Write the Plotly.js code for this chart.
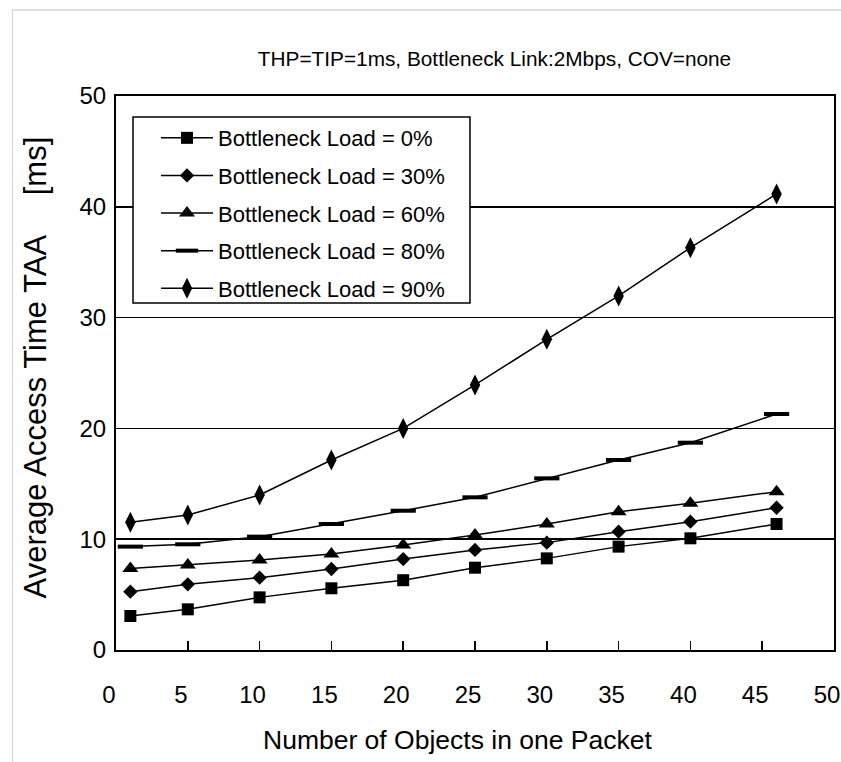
<!DOCTYPE html>
<html>
<head>
<meta charset="utf-8">
<script src="https://cdn.plot.ly/plotly-3.0.1.min.js"></script>
<style>
  html, body { margin: 0; padding: 0; background: #fff; }
  #wrap { position: relative; width: 841px; height: 762px; }
  #chart { width: 841px; height: 762px; }
  #frame { position: absolute; left: 12px; top: 9px; right: 0; bottom: 0;
           border-left: 1px solid #d4d4d4; border-top: 2px solid #e0e0e0; pointer-events: none; }
</style>
</head>
<body>
<div id="wrap">
  <div id="chart"></div>
  <div id="frame"></div>
</div>
<script>
// Number of objects in one packet
const objects = [1, 5, 10, 15, 20, 25, 30, 35, 40, 46];
// Average access time TAA [ms] per bottleneck load
const load0  = [3.07, 3.67, 4.75, 5.57, 6.30, 7.43, 8.27, 9.33, 10.08, 11.37];
const load30 = [5.26, 5.93, 6.53, 7.31, 8.21, 9.03, 9.69, 10.68, 11.58, 12.84];
const load60 = [7.36, 7.67, 8.12, 8.66, 9.48, 10.38, 11.37, 12.48, 13.24, 14.29];
const load80 = [9.33, 9.54, 10.23, 11.37, 12.57, 13.78, 15.49, 17.15, 18.71, 21.30];
const load90 = [11.52, 12.18, 13.99, 17.15, 20.00, 23.92, 28.04, 31.95, 36.31, 41.16];
const seriesNames = ['Bottleneck Load = 0%', 'Bottleneck Load = 30%', 'Bottleneck Load = 60%',
                     'Bottleneck Load = 80%', 'Bottleneck Load = 90%'];
const xTicks = [0, 5, 10, 15, 20, 25, 30, 35, 40, 45, 50];
const yTicks = [0, 10, 20, 30, 40, 50];
const titleText = 'THP=TIP=1ms, Bottleneck Link:2Mbps, COV=none';
const xTitleText = 'Number of Objects in one Packet';
const yTitleText = 'Average Access Time TAA\u2003 [ms]';

const FONT = '"Liberation Sans", Arial, sans-serif';

const markerStyles = [
  {symbol: 'square', size: 12, color: '#000'},
  {symbol: 'diamond', size: 11, color: '#000'},
  {symbol: 'triangle-up', size: 14, color: '#000'},
  {symbol: 'line-ew', size: 18, color: '#000', line: {color: '#000', width: 4}},
  {symbol: 'diamond-tall', size: 15, color: '#000'}
];
const values = [load0, load30, load60, load80, load90];

const traces = values.map((v, i) => ({
  type: 'scatter',
  mode: 'lines+markers',
  x: objects,
  y: v,
  name: seriesNames[i],
  legendgroup: 'g' + i,
  line: {color: '#000', width: 1.5},
  marker: markerStyles[i]
}));

const layout = {
  width: 841,
  height: 762,
  paper_bgcolor: '#fff',
  plot_bgcolor: '#fff',
  margin: {l: 116, r: 7, t: 96, b: 112},
  font: {family: FONT, color: '#000', size: 22},
  title: {
    text: titleText,
    font: {family: FONT, size: 20.8, color: '#000'},
    xref: 'container', x: 0.588, xanchor: 'center',
    yref: 'container', y: 0.923, yanchor: 'middle'
  },
  xaxis: {
    range: [0, 50],
    tickvals: xTicks,
    ticktext: xTicks.map(String),
    ticks: 'inside',
    ticklen: 9,
    tickwidth: 1.5,
    tickcolor: '#000',
    showgrid: false,
    zeroline: false,
    showline: true,
    linecolor: '#000',
    linewidth: 2,
    mirror: true,
    tickfont: {family: FONT, size: 24, color: '#000'},
    ticklabelstandoff: 22,
    ticklabelshift: -7,
    ticklabeloverflow: 'allow'
  },
  yaxis: {
    range: [0, 50],
    tickvals: yTicks,
    ticktext: yTicks.map(String),
    ticks: '',
    showgrid: true,
    gridcolor: '#000',
    gridwidth: 1.5,
    zeroline: false,
    showline: true,
    linecolor: '#000',
    linewidth: 2,
    mirror: true,
    tickfont: {family: FONT, size: 24, color: '#000'},
    ticklabelstandoff: 3
  },
  annotations: [{
    text: yTitleText,
    textangle: -90,
    xref: 'paper', x: -0.1128, xanchor: 'center',
    yref: 'paper', y: 0.51, yanchor: 'middle',
    showarrow: false,
    font: {family: FONT, size: 31, color: '#000'}
  }, {
    text: xTitleText,
    xref: 'paper', x: 0.475, xanchor: 'center',
    yref: 'paper', y: -0.1625, yanchor: 'middle',
    showarrow: false,
    font: {family: FONT, size: 26.5, color: '#000'}
  }],
  shapes: [{
    type: 'rect', layer: 'above',
    xref: 'paper', yref: 'paper',
    x0: 0.0237, x1: 0.493, y0: 0.6264, y1: 0.962,
    fillcolor: '#fff',
    line: {color: '#000', width: 1.5}
  }],
  showlegend: true,
  legend: {
    x: 0.0557, xanchor: 'left',
    y: 0.962, yanchor: 'top',
    bgcolor: 'rgba(0,0,0,0)',
    borderwidth: 0,
    font: {family: FONT, size: 22, color: '#000'},
    traceorder: 'grouped',
    tracegroupgap: 6,
    itemwidth: 52
  }
};

Plotly.newPlot('chart', traces, layout, {displayModeBar: false, staticPlot: true});
</script>
</body>
</html>
